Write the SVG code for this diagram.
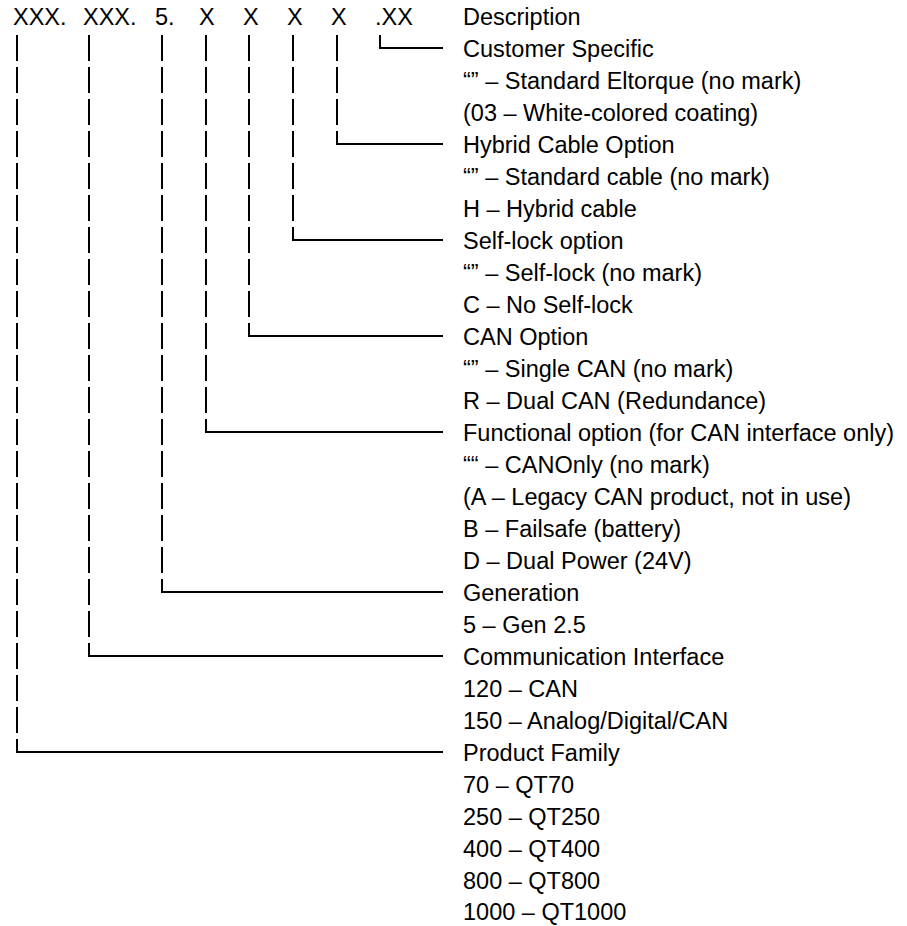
<svg xmlns="http://www.w3.org/2000/svg" width="907" height="926" viewBox="0 0 907 926">
<style>
text{font-family:"Liberation Sans",Arial,sans-serif;font-size:23.5px;fill:#000}
.bar{stroke:#000;stroke-width:2;fill:none;stroke-dasharray:26 6}
.cn{stroke:#000;stroke-width:2;fill:none}
</style>
<rect width="907" height="926" fill="#fff"/>
<g id="header">
<text x="13" y="25">XXX.</text>
<text x="83" y="25">XXX.</text>
<text x="155" y="25">5.</text>
<text x="199" y="25">X</text>
<text x="243" y="25">X</text>
<text x="287" y="25">X</text>
<text x="331" y="25">X</text>
<text x="375" y="25">.XX</text>
<text x="463" y="25">Description</text>
</g>
<g id="connectors">
<path class="bar" d="M17 35V752"/>
<path class="bar" d="M89 35V656"/>
<path class="bar" d="M162 35V592"/>
<path class="bar" d="M206 35V432"/>
<path class="bar" d="M249 35V336"/>
<path class="bar" d="M293 35V240"/>
<path class="bar" d="M337 35V144"/>
<path class="bar" d="M380 35V48"/>
<path class="cn" d="M16 752H443"/>
<path class="cn" d="M88 656H443"/>
<path class="cn" d="M161 592H443"/>
<path class="cn" d="M205 432H443"/>
<path class="cn" d="M248 336H443"/>
<path class="cn" d="M292 240H443"/>
<path class="cn" d="M336 144H443"/>
<path class="cn" d="M379 48H443"/>
</g>
<g id="customer-specific">
<text x="463" y="57">Customer Specific</text>
<text x="463" y="89">“” – Standard Eltorque (no mark)</text>
<text x="463" y="121">(03 – White-colored coating)</text>
</g>
<g id="hybrid-cable">
<text x="463" y="153">Hybrid Cable Option</text>
<text x="463" y="185">“” – Standard cable (no mark)</text>
<text x="463" y="217">H – Hybrid cable</text>
</g>
<g id="self-lock">
<text x="463" y="249">Self-lock option</text>
<text x="463" y="281">“” – Self-lock (no mark)</text>
<text x="463" y="313">C – No Self-lock</text>
</g>
<g id="can-option">
<text x="463" y="345">CAN Option</text>
<text x="463" y="377">“” – Single CAN (no mark)</text>
<text x="463" y="409">R – Dual CAN (Redundance)</text>
</g>
<g id="functional-option">
<text x="463" y="441">Functional option (for CAN interface only)</text>
<text x="463" y="473">““ – CANOnly (no mark)</text>
<text x="463" y="505">(A – Legacy CAN product, not in use)</text>
<text x="463" y="537">B – Failsafe (battery)</text>
<text x="463" y="569">D – Dual Power (24V)</text>
</g>
<g id="generation">
<text x="463" y="601">Generation</text>
<text x="463" y="633">5 – Gen 2.5</text>
</g>
<g id="communication-interface">
<text x="463" y="665">Communication Interface</text>
<text x="463" y="697">120 – CAN</text>
<text x="463" y="729">150 – Analog/Digital/CAN</text>
</g>
<g id="product-family">
<text x="463" y="761">Product Family</text>
<text x="463" y="793">70 – QT70</text>
<text x="463" y="825">250 – QT250</text>
<text x="463" y="857">400 – QT400</text>
<text x="463" y="889">800 – QT800</text>
<text x="463" y="920">1000 – QT1000</text>
</g>
</svg>
